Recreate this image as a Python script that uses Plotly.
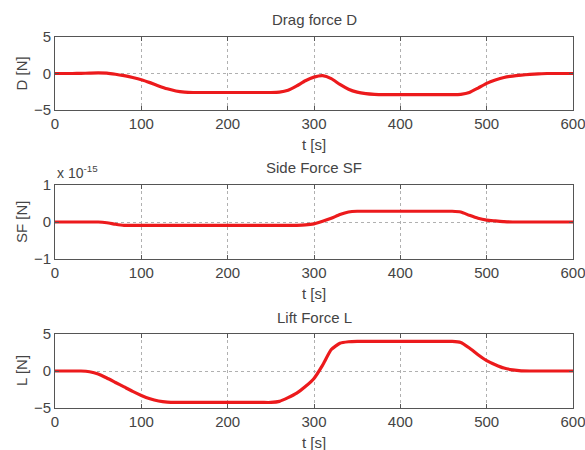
import plotly.graph_objects as go

t = list(range(0, 601, 10))

drag = [0, 0, 0, 0.02, 0.05, 0.08, 0.05, -0.1, -0.3, -0.55,
        -0.85, -1.25, -1.7, -2.1, -2.4, -2.55, -2.6, -2.6, -2.6, -2.6,
        -2.6, -2.6, -2.6, -2.6, -2.6, -2.6, -2.55, -2.3, -1.7, -1.0,
        -0.5, -0.3, -0.7, -1.5, -2.15, -2.55, -2.75, -2.85, -2.9, -2.9,
        -2.9, -2.9, -2.9, -2.9, -2.9, -2.9, -2.9, -2.85, -2.6, -2.0,
        -1.35, -0.9, -0.55, -0.35, -0.22, -0.12, -0.05, 0, 0, 0, 0]

side = [0.0, 0.0, 0.0, 0.0, 0.0, 0.0, -0.02, -0.06, -0.09, -0.09,
        -0.09, -0.09, -0.09, -0.09, -0.09, -0.09, -0.09, -0.09, -0.09, -0.09,
        -0.09, -0.09, -0.09, -0.09, -0.09, -0.09, -0.09, -0.09, -0.09, -0.08,
        -0.05, 0.02, 0.1, 0.2, 0.27, 0.29, 0.29, 0.29, 0.29, 0.29,
        0.29, 0.29, 0.29, 0.29, 0.29, 0.29, 0.29, 0.27, 0.18, 0.1,
        0.05, 0.03, 0.01, 0.0, 0.0, 0.0, 0.0, 0.0, 0.0, 0.0, 0.0]

lift = [0, 0, 0, 0, -0.1, -0.4, -0.95, -1.55, -2.15, -2.75,
        -3.3, -3.75, -4.05, -4.2, -4.25, -4.25, -4.25, -4.25, -4.25, -4.25,
        -4.25, -4.25, -4.25, -4.25, -4.25, -4.25, -4.1, -3.6, -3.0, -2.1,
        -1.0, 0.8, 2.9, 3.75, 3.95, 4.0, 4.0, 4.0, 4.0, 4.0,
        4.0, 4.0, 4.0, 4.0, 4.0, 4.0, 4.0, 3.85, 3.1, 2.2,
        1.4, 0.85, 0.4, 0.15, 0.02, 0, 0, 0, 0, 0, 0]

titles = ["Drag force D", "Side Force SF", "Lift Force L"]
ylabels = ["D [N]", "SF [N]", "L [N]"]
xticks = [0, 100, 200, 300, 400, 500, 600]
yticks = [[-5, 0, 5], [-1, 0, 1], [-5, 0, 5]]
yranges = [[-5, 5], [-1, 1], [-5, 5]]

W, H = 585, 450
FONT = "Liberation Sans, Arial, sans-serif"
TXT = "#444444"
RED = "#ec1a1c"

# pixel positions of the panels
x0, x1 = 55, 573
panels = [(37, 110), (185, 259), (334, 408)]

fig = go.Figure()
series = [drag, side, lift]
layout = {}
annotations = []
for i, (top, bot) in enumerate(panels):
    k = "" if i == 0 else str(i + 1)
    fig.add_trace(go.Scatter(x=t, y=series[i], mode="lines",
                             line=dict(color=RED, width=3.2, shape="spline", smoothing=0.5),
                             xaxis="x" + k, yaxis="y" + k, showlegend=False))
    common = dict(showline=True, mirror="allticks", linecolor="#555555", linewidth=1,
                  ticks="inside", ticklen=4, tickcolor="#555555",
                  showgrid=True, gridcolor="#b0b0b0", griddash="dot", gridwidth=1,
                  zeroline=False, ticklabeloverflow="allow", automargin=False,
                  tickfont=dict(family=FONT, size=15, color=TXT))
    layout["xaxis" + k] = dict(domain=[x0 / W, x1 / W], anchor="y" + k,
                               range=[0, 600], tickvals=xticks, **common)
    layout["yaxis" + k] = dict(domain=[1 - bot / H, 1 - top / H], anchor="x" + k,
                               range=yranges[i], tickvals=yticks[i], **common)
    # title
    annotations.append(dict(text=titles[i], x=(x0 + x1) / 2 / W, y=1 - (top - 17) / H,
                            xref="paper", yref="paper", showarrow=False,
                            xanchor="center", yanchor="middle",
                            font=dict(family=FONT, size=15, color=TXT)))
    # x label
    annotations.append(dict(text="t [s]", x=(x0 + x1) / 2 / W, y=1 - (bot + 34) / H,
                            xref="paper", yref="paper", showarrow=False,
                            xanchor="center", yanchor="middle",
                            font=dict(family=FONT, size=15, color=TXT)))
    # y label
    annotations.append(dict(text=ylabels[i], x=21 / W, y=1 - (top + bot) / 2 / H,
                            xref="paper", yref="paper", showarrow=False, textangle=-90,
                            xanchor="center", yanchor="middle",
                            font=dict(family=FONT, size=15, color=TXT)))

annotations.append(dict(text="x 10<sup>-15</sup>", x=55 / W, y=1 - 183 / H,
                        xref="paper", yref="paper", showarrow=False,
                        xanchor="left", yanchor="bottom",
                        font=dict(family=FONT, size=14, color=TXT)))

fig.update_layout(width=W, height=H, margin=dict(l=0, r=0, t=0, b=0, autoexpand=False),
                  plot_bgcolor="white", paper_bgcolor="white",
                  annotations=annotations, **layout)

fig.write_html("out.html")
